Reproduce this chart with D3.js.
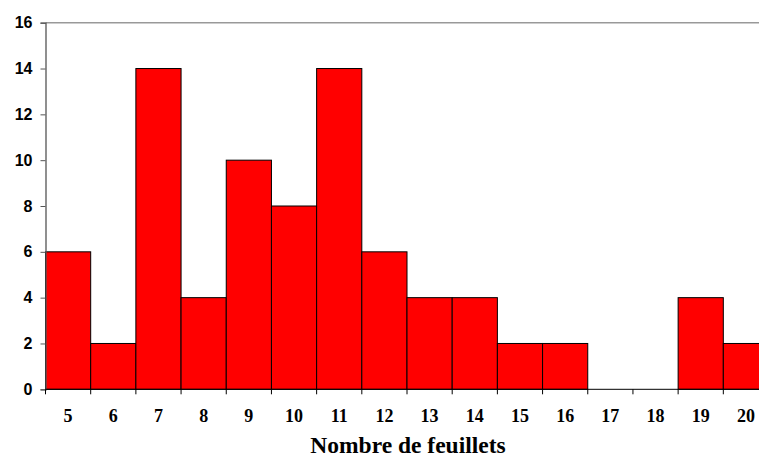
<!DOCTYPE html>
<html>
<head>
<meta charset="utf-8">
<script src="https://cdn.jsdelivr.net/npm/d3@7"></script>
<style>
  html, body { margin: 0; padding: 0; background: #fff; overflow: hidden; }
  svg { display: block; }
</style>
</head>
<body>
<script>
// Distribution of leaf counts
const categories = [5, 6, 7, 8, 9, 10, 11, 12, 13, 14, 15, 16, 17, 18, 19, 20];
const counts = [6, 2, 14, 4, 10, 8, 14, 6, 4, 4, 2, 2, 0, 0, 4, 2];
const yTicks = [0, 2, 4, 6, 8, 10, 12, 14, 16];
const xTitle = "Nombre de feuillets";

const W = 759, H = 457;
const plotLeft = 45.5, plotTop = 22.7, plotBottom = 389.3, plotRight = 768.5;

const svg = d3.select("body").append("svg").attr("width", W).attr("height", H);

const x = d3.scaleBand().domain(categories).range([plotLeft, plotRight]).padding(0);
const y = d3.scaleLinear().domain([0, 16]).range([plotBottom, plotTop]);

// top frame line
svg.append("line")
  .attr("x1", plotLeft).attr("x2", W)
  .attr("y1", y(16)).attr("y2", y(16))
  .attr("stroke", "#999").attr("stroke-width", 1.5);

// bars
svg.append("g").selectAll("rect")
  .data(categories.map((c, i) => ({ c, v: counts[i] })))
  .join("rect")
  .attr("x", d => x(d.c))
  .attr("width", x.bandwidth())
  .attr("y", d => y(d.v))
  .attr("height", d => y(0) - y(d.v))
  .attr("fill", "#ff0000")
  .attr("stroke", "#000")
  .attr("stroke-width", 1);

// y axis
const yAxis = svg.append("g")
  .attr("transform", `translate(${plotLeft},0)`)
  .call(d3.axisLeft(y).tickValues(yTicks).tickSize(5).tickPadding(8).tickFormat(d3.format("d")));
yAxis.select(".domain").attr("stroke", "#555").attr("stroke-width", 1.3);
yAxis.selectAll(".tick line").attr("stroke", "#555");
yAxis.selectAll("text")
  .attr("font-family", "Liberation Sans, Arial, sans-serif")
  .attr("font-weight", "bold")
  .attr("font-size", 16)
  .attr("fill", "#000");

// x axis: ticks on the band boundaries, labels centred on the bands
const xg = svg.append("g").attr("transform", `translate(0,${plotBottom})`);
xg.append("line")
  .attr("x1", plotLeft).attr("x2", W)
  .attr("stroke", "#000").attr("stroke-width", 1);
xg.selectAll("line.tk")
  .data(categories)
  .join("line")
  .attr("class", "tk")
  .attr("x1", d => x(d)).attr("x2", d => x(d))
  .attr("y1", 0).attr("y2", 5)
  .attr("stroke", "#000");
xg.selectAll("text")
  .data(categories)
  .join("text")
  .attr("x", d => x(d) + x.bandwidth() / 2)
  .attr("y", 32.5)
  .attr("text-anchor", "middle")
  .attr("font-family", "Liberation Serif, Times New Roman, serif")
  .attr("font-weight", "bold")
  .attr("font-size", 18)
  .text(d => d);

// axis title
svg.append("text")
  .attr("x", 408)
  .attr("y", 452.5)
  .attr("text-anchor", "middle")
  .attr("font-family", "Liberation Serif, Times New Roman, serif")
  .attr("font-weight", "bold")
  .attr("font-size", 23.5)
  .text(xTitle);
</script>
</body>
</html>
